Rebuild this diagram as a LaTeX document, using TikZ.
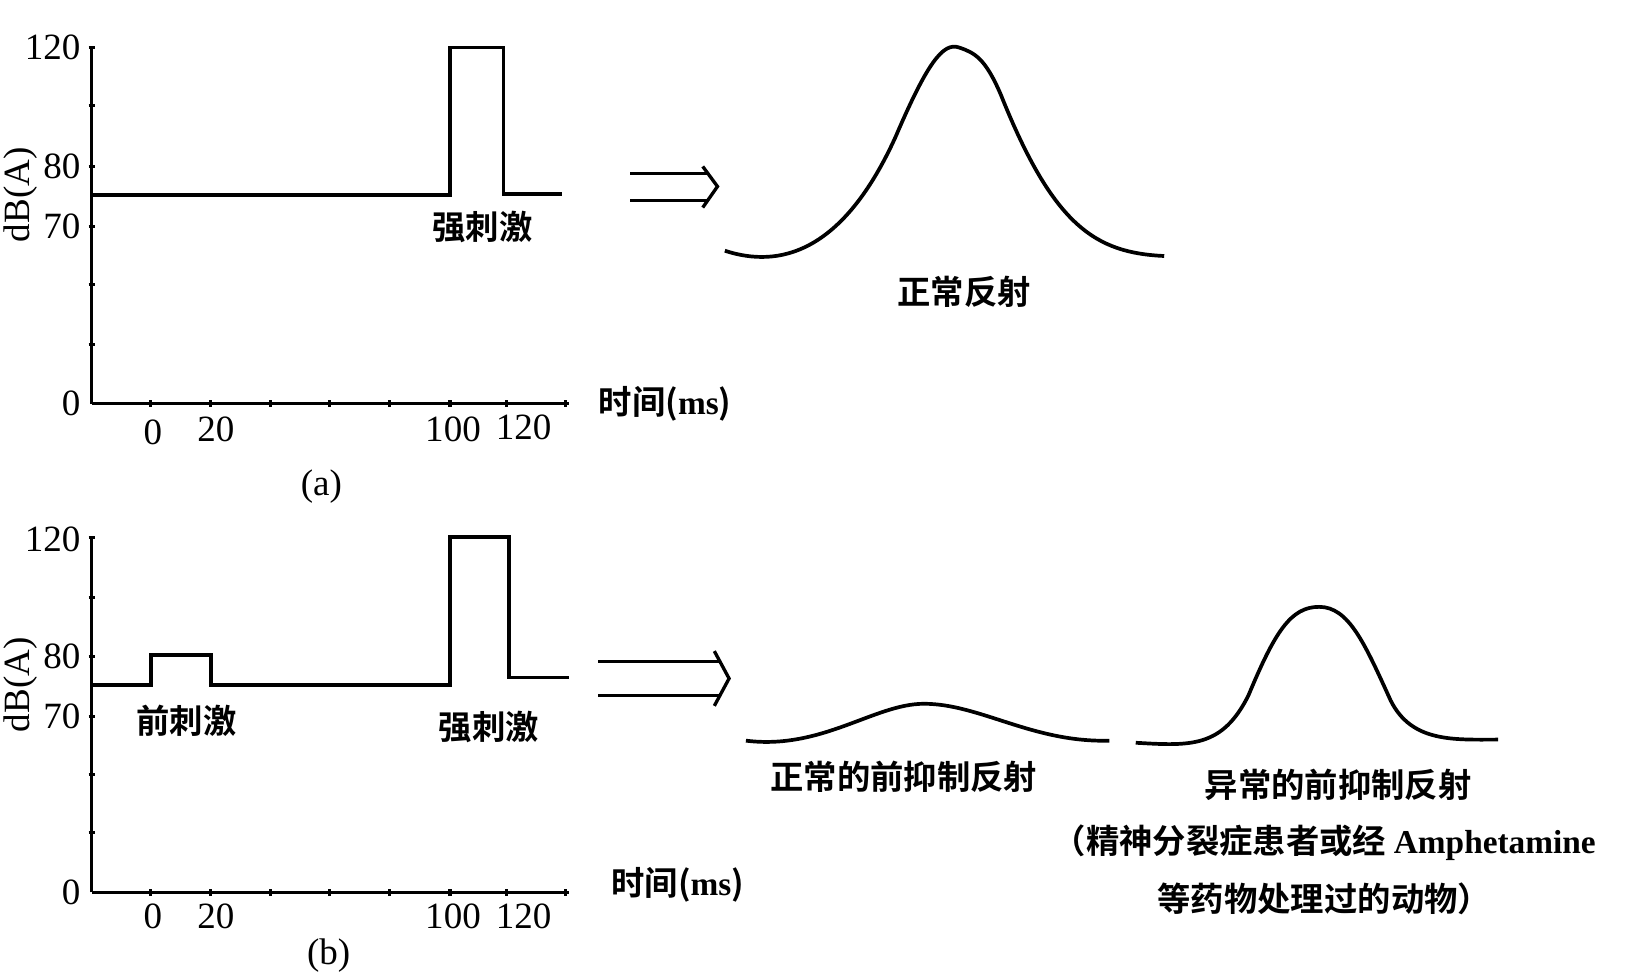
\documentclass[tikz,border=0pt]{standalone}
\usepackage{fontspec}
\setmainfont{Liberation Serif}
\newfontfamily\cjk{Noto Sans CJK SC Bold}
\begin{document}
\begin{tikzpicture}[x=0.01cm,y=-0.01cm,line width=0.9pt,
  num/.style={font=\fontsize{10}{12}\selectfont},
  yl/.style={num,anchor=east,inner sep=0pt},
  cj/.style={font=\cjk\fontsize{9}{11}\selectfont},
  sig/.style={line width=1pt}]
\useasboundingbox (0,0) rectangle (1568,925);
% ---------- (a)
\draw (87,383) -- (87,45);
\draw (87,383) -- (540,383);
\foreach \y in {45,100,158,215,270,327} \draw (84,\y) -- (90,\y);
\foreach \x in {143,200,257,313,370,427,481,537} \draw (\x,380) -- (\x,386);
\node[yl] (a120) at (78,45) {120};
\node[yl] (a80) at (78,158) {80};
\node[yl] (a70) at (78,215) {70};
\node[yl] (a0) at (78,383) {0};
\node[num,rotate=90,inner sep=0pt] (ady) at (20,185) {dB(A)};
\node[num] (ax0) at (145,410) {0};
\node[num] (ax20) at (205,408) {20};
\node[num] (ax100) at (430,408) {100};
\node[num] (ax120) at (497,406) {120};
\node[cj,anchor=west] (at) at (555,383) {时间({\rmfamily\bfseries ms})};
\draw[sig] (87,185) -- (427,185) -- (427,45) -- (478,45) -- (478,184) -- (533,184);
\node[cj] (as) at (458,215) {强刺激};
\node[num] (alab) at (305,462) {(a)};
\draw (598,165) -- (672,165) (598,190) -- (672,190);
\draw (667,158) -- (681,177) -- (667,197);
\draw[sig] (688,238) .. controls (740,255) and (800,240) .. (850,130)
  .. controls (880,60) and (895,40) .. (910,45)
  .. controls (925,50) and (935,55) .. (950,90)
  .. controls (1000,215) and (1040,240) .. (1105,243);
\node[cj] (ar) at (915,277) {正常反射};
% ---------- (b)
\draw (87,847) -- (87,510);
\draw (87,847) -- (540,847);
\foreach \y in {510,567,623,680,735,790} \draw (84,\y) -- (90,\y);
\foreach \x in {143,200,257,313,370,427,481,537} \draw (\x,844) -- (\x,850);
\node[yl] (b120) at (78,512) {120};
\node[yl] (b80) at (78,623) {80};
\node[yl] (b70) at (78,680) {70};
\node[yl] (b0) at (78,847) {0};
\node[num,rotate=90,inner sep=0pt] (bdy) at (20,650) {dB(A)};
\node[num] (bx0) at (145,870) {0};
\node[num] (bx20) at (205,870) {20};
\node[num] (bx100) at (430,870) {100};
\node[num] (bx120) at (497,870) {120};
\node[cj,anchor=west] (bt) at (567,840) {时间({\rmfamily\bfseries ms})};
\draw[sig] (87,650) -- (143,650) -- (143,622) -- (200,622) -- (200,650) -- (427,650)
  -- (427,510) -- (483,510) -- (483,643) -- (540,643);
\node[cj] (bp) at (177,684) {前刺激};
\node[cj] (bs) at (464,690) {强刺激};
\node[num] (blab) at (312,907) {(b)};
\draw (568,628) -- (683,628) (568,660) -- (683,660);
\draw (678,618) -- (692,644) -- (678,670);
\draw[sig] (708,703) .. controls (780,712) and (830,668) .. (877,668)
  .. controls (930,668) and (980,705) .. (1053,703);
\draw[sig] (1078,705) .. controls (1130,708) and (1160,710) .. (1185,660)
  .. controls (1210,600) and (1225,576) .. (1252,576)
  .. controls (1280,576) and (1295,610) .. (1320,665)
  .. controls (1340,705) and (1380,702) .. (1422,702);
\node[cj] (bn) at (858,737) {正常的前抑制反射};
\node[cj] (ba) at (1270,745) {异常的前抑制反射};
\node[cj] (bb) at (1257,800) {（精神分裂症患者或经 {\rmfamily\bfseries Amphetamine}};
\node[cj] (bc) at (1257,853) {等药物处理过的动物）};
\end{tikzpicture}
\end{document}
